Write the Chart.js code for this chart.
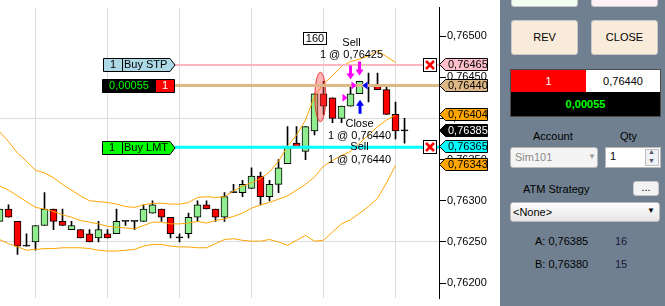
<!DOCTYPE html>
<html>
<head>
<meta charset="utf-8">
<script src="https://cdn.jsdelivr.net/npm/chart.js@4.4.1/dist/chart.umd.min.js"></script>
<style>
body { margin: 0; width: 665px; height: 306px; overflow: hidden; background: #fff; font-family: Arial, "Liberation Sans", sans-serif; font-size: 11px; position: relative; }
#wrap { position: absolute; left: 0; top: 0; width: 500px; height: 306px; }
#panel { position: absolute; left: 500px; top: 0; width: 165px; height: 306px; background: #708090; }
#panel div { position: absolute; box-sizing: border-box; }
.btn { border: 1px solid #c8c8c8; border-radius: 3px; text-align: center; color: #000; }
.lbl { color: #000; white-space: nowrap; }
</style>
</head>
<body>
<div id="wrap"><canvas id="myChart" width="500" height="306"></canvas></div>

<div id="panel">
  <div class="btn" style="left:11px;top:-4px;width:67px;height:11px;background:#f0fff0;"></div>
  <div class="btn" style="left:91px;top:-4px;width:67px;height:11px;background:#fff0f5;"></div>
  <div class="btn" style="left:11px;top:20px;width:67px;height:35px;line-height:33px;background:#f8ebd9;">REV</div>
  <div class="btn" style="left:91px;top:20px;width:67px;height:35px;line-height:33px;background:#f8ebd9;">CLOSE</div>

  <div style="left:10px;top:69px;width:151px;height:48px;border:1px solid #4a4a4a;background:#000;"></div>
  <div style="left:11px;top:70px;width:75px;height:22px;line-height:22px;background:#ff0000;color:#fff;text-align:center;">1</div>
  <div style="left:86px;top:70px;width:74px;height:22px;line-height:22px;background:#fff;color:#000;text-align:center;">0,76440</div>
  <div style="left:11px;top:93px;width:149px;height:23px;line-height:23px;color:#00ff00;font-weight:bold;text-align:center;">0,00055</div>

  <div class="lbl" style="left:33px;top:130px;">Account</div>
  <div class="lbl" style="left:120px;top:130px;">Qty</div>
  <div style="left:10px;top:147px;width:88px;height:21px;border:1px solid #b8b8b8;border-radius:3px;background:#f4f4f4;color:#8a8a8a;padding:3px 0 0 4px;">Sim101</div>
  <div style="left:88px;top:152px;color:#a0a0a0;font-size:8px;">&#9660;</div>
  <div style="left:105px;top:147px;width:56px;height:21px;border:1px solid #b8b8b8;background:#fff;color:#000;padding:2px 0 0 4px;">1</div>
  <div style="left:145px;top:149px;width:14px;height:17px;border:1px solid #c0c0c0;background:#eef2f7;"></div>
  <div style="left:148px;top:148px;color:#556;font-size:7px;">&#9650;</div>
  <div style="left:148px;top:157px;color:#556;font-size:7px;">&#9660;</div>

  <div class="lbl" style="left:23px;top:183px;">ATM Strategy</div>
  <div class="btn" style="left:133px;top:181px;width:26px;height:15px;line-height:11px;background:#f4f4f4;">...</div>
  <div style="left:10px;top:202px;width:150px;height:20px;border:1px solid #b8b8b8;border-radius:3px;background:linear-gradient(#fdfdfd,#e6e6e6);color:#000;padding:3px 0 0 2px;">&lt;None&gt;</div>
  <div style="left:147px;top:206px;color:#000;font-size:8px;">&#9660;</div>

  <div class="lbl" style="left:35px;top:235px;">A: 0,76385</div>
  <div class="lbl" style="left:115px;top:235px;color:#1a1a3a;">16</div>
  <div class="lbl" style="left:35px;top:258px;">B: 0,76380</div>
  <div class="lbl" style="left:115px;top:258px;color:#1a1a3a;">15</div>
</div>

<script>
//
// candles (index 0 = leftmost bar)
//
const candleOpen  = [0.76275, 0.76290, 0.76275, 0.76245, 0.76250, 0.76270, 0.76290, 0.76275, 0.76265, 0.76265,
                     0.76260, 0.76255, 0.76260, 0.76260, 0.76275, 0.76275, 0.76275, 0.76285, 0.76290, 0.76280,
                     0.76255, 0.76260, 0.76280, 0.76295, 0.76290, 0.76280, 0.76310, 0.76310, 0.76315, 0.76330,
                     0.76305, 0.76320, 0.76345, 0.76370, 0.76360, 0.76385, 0.76430, 0.76425, 0.76400, 0.76415,
                     0.76430, 0.76440, 0.76440, 0.76435, 0.76405, 0.76385];
const candleHigh  = [0.76290, 0.76295, 0.76275, 0.76260, 0.76270, 0.76310, 0.76290, 0.76290, 0.76275, 0.76265,
                     0.76265, 0.76275, 0.76265, 0.76290, 0.76275, 0.76275, 0.76295, 0.76300, 0.76290, 0.76280,
                     0.76260, 0.76285, 0.76300, 0.76300, 0.76290, 0.76310, 0.76320, 0.76325, 0.76340, 0.76335,
                     0.76325, 0.76350, 0.76390, 0.76390, 0.76390, 0.76430, 0.76445, 0.76425, 0.76415, 0.76440,
                     0.76445, 0.76455, 0.76455, 0.76440, 0.76420, 0.76400];
const candleLow   = [0.76275, 0.76280, 0.76235, 0.76245, 0.76240, 0.76270, 0.76265, 0.76270, 0.76265, 0.76255,
                     0.76250, 0.76250, 0.76255, 0.76260, 0.76270, 0.76265, 0.76275, 0.76285, 0.76275, 0.76255,
                     0.76250, 0.76255, 0.76275, 0.76290, 0.76275, 0.76275, 0.76310, 0.76305, 0.76315, 0.76295,
                     0.76300, 0.76310, 0.76345, 0.76365, 0.76350, 0.76380, 0.76405, 0.76395, 0.76395, 0.76415,
                     0.76430, 0.76420, 0.76435, 0.76405, 0.76375, 0.76370];
const candleClose = [0.76290, 0.76280, 0.76245, 0.76245, 0.76270, 0.76290, 0.76275, 0.76270, 0.76270, 0.76255,
                     0.76250, 0.76265, 0.76255, 0.76275, 0.76275, 0.76275, 0.76290, 0.76295, 0.76280, 0.76260,
                     0.76255, 0.76280, 0.76295, 0.76290, 0.76280, 0.76305, 0.76310, 0.76320, 0.76330, 0.76305,
                     0.76320, 0.76340, 0.76365, 0.76365, 0.76390, 0.76430, 0.76415, 0.76400, 0.76415, 0.76430,
                     0.76445, 0.76440, 0.76435, 0.76405, 0.76385, 0.76385];

//
// bollinger bands
//
const bbUpper  = [0.76384, 0.76372, 0.76358, 0.76348, 0.76337, 0.76334, 0.76328, 0.76320, 0.76313, 0.76306,
                  0.76300, 0.76299, 0.76298, 0.76296, 0.76293, 0.76292, 0.76295, 0.76297, 0.76297, 0.76296,
                  0.76296, 0.76298, 0.76304, 0.76305, 0.76304, 0.76305, 0.76312, 0.76318, 0.76322, 0.76327,
                  0.76335, 0.76348, 0.76366, 0.76380, 0.76398, 0.76427, 0.76442, 0.76452, 0.76463, 0.76469,
                  0.76472, 0.76476, 0.76482, 0.76475, 0.76468];
const bbMiddle = [0.76318, 0.76313, 0.76306, 0.76299, 0.76292, 0.76290, 0.76287, 0.76283, 0.76280, 0.76276,
                  0.76274, 0.76272, 0.76269, 0.76268, 0.76267, 0.76266, 0.76270, 0.76274, 0.76274, 0.76272,
                  0.76272, 0.76273, 0.76275, 0.76273, 0.76276, 0.76278, 0.76281, 0.76285, 0.76291, 0.76295,
                  0.76298, 0.76302, 0.76306, 0.76313, 0.76320, 0.76329, 0.76342, 0.76349, 0.76355, 0.76360,
                  0.76370, 0.76380, 0.76390, 0.76398, 0.76404];
const bbLower  = [0.76253, 0.76248, 0.76244, 0.76240, 0.76241, 0.76242, 0.76242, 0.76243, 0.76243, 0.76243,
                  0.76242, 0.76240, 0.76239, 0.76239, 0.76240, 0.76241, 0.76245, 0.76247, 0.76247, 0.76245,
                  0.76244, 0.76244, 0.76243, 0.76243, 0.76248, 0.76253, 0.76254, 0.76252, 0.76251, 0.76251,
                  0.76253, 0.76250, 0.76246, 0.76252, 0.76258, 0.76251, 0.76252, 0.76262, 0.76272, 0.76277,
                  0.76285, 0.76293, 0.76303, 0.76322, 0.76343];

//
// orders / position lines
//
const orderPrices = [0.76465, 0.76440, 0.76365];
const orderColors = ['#ffb6c1', '#deb887', '#00ffff'];

//
// price markers on the axis
//
const markerPrices = [0.76465, 0.76440, 0.76404, 0.76385, 0.76365, 0.76343];
const markerLabels = ['0,76465', '0,76440', '0,76404', '0,76385', '0,76365', '0,76343'];
const markerFill   = ['#ffc0cb', '#deb887', '#ffa500', '#000000', '#00ffff', '#ffa500'];
const markerText   = ['#000', '#000', '#000', '#fff', '#000', '#000'];

//
// executions
//
const execBar   = [39, 40, 40];
const execPrice = [0.76425, 0.76440, 0.76440];
const execSide  = ['sell', 'sell', 'buy'];

const fmt = v => v.toFixed(5).replace('.', ',');

let bodies = [], wicks = [], bodyColors = [];
for (let i = 0; i < candleOpen.length; i++) {
    bodies.push({ x: i, y: [candleOpen[i], candleClose[i]] });
    wicks.push({ x: i, y: [candleLow[i], candleHigh[i]] });
    bodyColors.push(candleClose[i] > candleOpen[i] ? '#90ee90' : (candleClose[i] < candleOpen[i] ? '#ff0000' : '#000'));
}
const band = arr => arr.map((v, i) => ({ x: i, y: v }));

function tag(ctx, x0, x1, yc, h, fill, pointLeft, pointRight) {
    const t = Math.round(yc - h / 2) + 0.5, b = t + h;
    ctx.beginPath();
    if (pointLeft) { ctx.moveTo(x0, (t + b) / 2); ctx.lineTo(x0 + 6, t); } else { ctx.moveTo(x0, t); }
    if (pointRight) { ctx.lineTo(x1 - 5, t); ctx.lineTo(x1, (t + b) / 2); ctx.lineTo(x1 - 5, b); } else { ctx.lineTo(x1, t); ctx.lineTo(x1, b); }
    if (pointLeft) { ctx.lineTo(x0 + 6, b); } else { ctx.lineTo(x0, b); }
    ctx.closePath();
    ctx.fillStyle = fill;
    ctx.fill();
    ctx.strokeStyle = '#000';
    ctx.lineWidth = 1;
    ctx.stroke();
}

function txt(ctx, s, x, y, color, align) {
    ctx.fillStyle = color;
    ctx.textAlign = align || 'center';
    ctx.textBaseline = 'middle';
    ctx.fillText(s, x, y);
}

function arrow(ctx, cx, yTip, dir, color) {
    // dir 1 = pointing down, -1 = pointing up
    ctx.fillStyle = color;
    ctx.beginPath();
    ctx.moveTo(cx, yTip);
    ctx.lineTo(cx - 4, yTip - dir * 6);
    ctx.lineTo(cx - 1.5, yTip - dir * 6);
    ctx.lineTo(cx - 1.5, yTip - dir * 14);
    ctx.lineTo(cx + 1.5, yTip - dir * 14);
    ctx.lineTo(cx + 1.5, yTip - dir * 6);
    ctx.lineTo(cx + 4, yTip - dir * 6);
    ctx.closePath();
    ctx.fill();
}

function tri(ctx, xTip, yc, dir, color) {
    // dir 1 = pointing right, -1 = pointing left
    ctx.fillStyle = color;
    ctx.beginPath();
    ctx.moveTo(xTip, yc);
    ctx.lineTo(xTip - dir * 5, yc - 4);
    ctx.lineTo(xTip - dir * 5, yc + 4);
    ctx.closePath();
    ctx.fill();
}

const overlay = {
    id: 'overlay',
    afterDatasetsDraw(chart) {
        const { ctx, chartArea, scales: { x, y } } = chart;
        ctx.save();
        ctx.font = '11px Arial, "Liberation Sans", sans-serif';

        // highlight ellipse
        const ex = x.getPixelForValue(35.65), ey1 = y.getPixelForValue(0.76456), ey2 = y.getPixelForValue(0.76396);
        ctx.beginPath();
        ctx.ellipse(ex, (ey1 + ey2) / 2, 5.5, (ey2 - ey1) / 2, 0, 0, Math.PI * 2);
        ctx.fillStyle = 'rgba(255,70,70,0.4)';
        ctx.fill();
        ctx.strokeStyle = 'rgba(230,30,30,0.85)';
        ctx.lineWidth = 1;
        ctx.stroke();

        // order lines
        for (let i = 0; i < orderPrices.length; i++) {
            const py = y.getPixelForValue(orderPrices[i]);
            ctx.beginPath();
            ctx.moveTo(175, py);
            ctx.lineTo(chartArea.right, py);
            ctx.strokeStyle = orderColors[i];
            ctx.lineWidth = i == 0 ? 2 : 3;
            ctx.stroke();
        }

        // order tags on the left
        let py = y.getPixelForValue(orderPrices[0]);
        tag(ctx, 103.5, 175, py, 13, '#add8e6', false, true);
        ctx.beginPath(); ctx.moveTo(122.5, py - 6); ctx.lineTo(122.5, py + 7); ctx.strokeStyle = '#000'; ctx.stroke();
        txt(ctx, '1', 113, py + 0.5, '#000');
        txt(ctx, 'Buy STP', 124, py + 0.5, '#000', 'left');

        py = y.getPixelForValue(orderPrices[1]);
        tag(ctx, 102.5, 174.5, py, 13, '#000', false, false);
        ctx.fillStyle = '#ff0000';
        ctx.fillRect(156, Math.round(py - 6.5) + 1, 18, 12);
        txt(ctx, '0,00055', 129, py + 0.5, '#00ff00');
        txt(ctx, '1', 165, py + 0.5, '#fff');

        py = y.getPixelForValue(orderPrices[2]);
        tag(ctx, 102.5, 175, py, 13, '#00ff00', false, true);
        ctx.beginPath(); ctx.moveTo(122.5, py - 6); ctx.lineTo(122.5, py + 7); ctx.strokeStyle = '#000'; ctx.stroke();
        txt(ctx, '1', 112, py + 0.5, '#000');
        txt(ctx, 'Buy LMT', 124, py + 0.5, '#000', 'left');

        // cancel boxes
        [orderPrices[0], orderPrices[2]].forEach(p => {
            const cy = Math.round(y.getPixelForValue(p));
            ctx.fillStyle = '#fff';
            ctx.fillRect(423, cy - 7, 14, 14);
            ctx.strokeStyle = '#000';
            ctx.lineWidth = 1;
            ctx.strokeRect(423.5, cy - 6.5, 13, 13);
            ctx.beginPath();
            ctx.moveTo(426, cy - 4); ctx.lineTo(434, cy + 4);
            ctx.moveTo(434, cy - 4); ctx.lineTo(426, cy + 4);
            ctx.strokeStyle = '#ff0000';
            ctx.lineWidth = 2.5;
            ctx.stroke();
        });

        // executions
        for (let i = 0; i < execBar.length; i++) {
            const b = execBar[i];
            const cx = x.getPixelForValue(b);
            const pp = y.getPixelForValue(execPrice[i]);
            if (execSide[i] == 'sell') {
                arrow(ctx, cx, y.getPixelForValue(candleHigh[b]) - 6, 1, '#ff00ff');
                tri(ctx, cx - 3, pp, 1, '#ff00ff');
            } else {
                arrow(ctx, cx + 0.5, y.getPixelForValue(candleLow[b]) + 6, -1, '#0000ff');
                tri(ctx, cx + 3, pp, -1, '#0000ff');
            }
        }

        // execution texts
        const hx1 = x.getPixelForValue(execBar[0]);
        const top1 = y.getPixelForValue(candleHigh[execBar[0]]) - 20;
        txt(ctx, 'Sell', hx1 + 1, top1 - 23, '#000');
        txt(ctx, '1 @ ' + fmt(execPrice[0]), hx1 + 1, top1 - 11, '#000');
        const hx2 = x.getPixelForValue(execBar[2]);
        const bot2 = y.getPixelForValue(candleLow[execBar[2]]) + 19;
        txt(ctx, 'Close', hx2, bot2 + 11, '#000');
        txt(ctx, '1 @ ' + fmt(execPrice[2]), hx2, bot2 + 23, '#000');
        txt(ctx, 'Sell', hx2, bot2 + 34, '#000');
        txt(ctx, '1 @ ' + fmt(execPrice[1]), hx2, bot2 + 47, '#000');

        // bar counter
        ctx.fillStyle = '#fff';
        ctx.fillRect(303, 32, 23, 12);
        ctx.strokeStyle = '#000';
        ctx.lineWidth = 1;
        ctx.strokeRect(303.5, 32.5, 23, 12);
        txt(ctx, '160', 315, 39, '#000');
        ctx.restore();
    },
    afterDraw(chart) {
        const { ctx, chartArea, scales: { y } } = chart;
        ctx.save();
        ctx.font = '11px Arial, "Liberation Sans", sans-serif';
        for (let i = 0; i < markerPrices.length; i++) {
            const py = y.getPixelForValue(markerPrices[i]) - 1;
            tag(ctx, chartArea.right + 0.5, 487.5, py, 12, markerFill[i], true, false);
            txt(ctx, markerLabels[i], 448, py + 1, markerText[i], 'left');
        }
        ctx.restore();
    }
};

new Chart(document.getElementById('myChart').getContext('2d'), {
    type: 'bar',
    data: {
        datasets: [
            { type: 'line', data: band(bbUpper), borderColor: '#ffa500', borderWidth: 1, pointRadius: 0, tension: 0, order: 0 },
            { type: 'line', data: band(bbMiddle), borderColor: '#ffa500', borderWidth: 1, pointRadius: 0, tension: 0, order: 0 },
            { type: 'line', data: band(bbLower), borderColor: '#ffa500', borderWidth: 1, pointRadius: 0, tension: 0, order: 0 },
            { data: bodies, backgroundColor: bodyColors, borderColor: '#000', borderWidth: 1, borderSkipped: false,
              barThickness: 7, minBarLength: 1, grouped: false, order: 1 },
            { data: wicks, backgroundColor: '#000', borderWidth: 0, barThickness: 1, grouped: false, order: 2 },
        ]
    },
    options: {
        responsive: false,
        animation: false,
        devicePixelRatio: 1,
        layout: { padding: 0 },
        plugins: { legend: { display: false }, tooltip: { enabled: false } },
        events: [],
        scales: {
            x: {
                type: 'linear',
                min: 0.0556,
                max: 48.83,
                offset: false,
                afterBuildTicks: s => { s.ticks = [4, 12, 20, 28, 36, 44].map(v => ({ value: v })); },
                ticks: { display: false },
                grid: { color: '#dcdcdc', drawTicks: false, offset: false },
                border: { display: false },
            },
            y: {
                position: 'right',
                min: 0.761815,
                max: 0.765346,
                afterFit: s => { s.width = 61; },
                ticks: {
                    stepSize: 0.0005,
                    includeBounds: false,
                    color: '#000',
                    padding: 1,
                    font: { family: 'Arial, "Liberation Sans", sans-serif', size: 11 },
                    callback: v => fmt(v),
                },
                grid: {
                    color: c => (c.tick && (Math.abs(c.tick.value - 0.764) < 1e-7 || Math.abs(c.tick.value - 0.7625) < 1e-7)) ? '#dcdcdc' : 'rgba(0,0,0,0)',
                    tickColor: '#000',
                    tickLength: 7,
                },
                border: { display: true, color: '#000', width: 1 },
            }
        }
    },
    plugins: [overlay]
});
</script>
</body>
</html>
